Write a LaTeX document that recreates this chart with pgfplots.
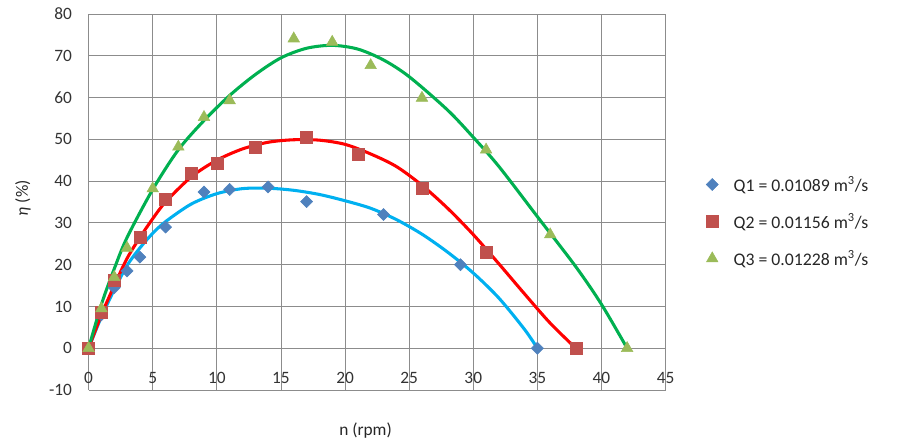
\documentclass[border=0pt]{standalone}
\usepackage{fontspec}
\setmainfont{Carlito}
\usepackage{pgfplots}
\pgfplotsset{compat=1.18}

\definecolor{gridgray}{HTML}{8C8C8C}
\definecolor{qonemark}{HTML}{4F81BD}
\definecolor{qtwomark}{HTML}{C0504D}
\definecolor{qthreemark}{HTML}{9BBB59}
\definecolor{qoneline}{HTML}{00B0F0}
\definecolor{qtwoline}{HTML}{FF0000}
\definecolor{qthreeline}{HTML}{00B050}

\begin{document}
\begin{tikzpicture}
\useasboundingbox (0,0) rectangle (675pt,332.25pt);
\begin{axis}[
    at={(66.45pt,39.75pt)}, anchor=south west,
    scale only axis,
    width=432.75pt, height=282pt,
    xmin=0, xmax=45, ymin=-10, ymax=80,
    xtick={0,5,...,45}, ytick={-10,0,...,80},
    xticklabels={0,5,10,15,20,25,30,35,40,45},
    axis x line=middle, axis y line=left,
    hide obscured x ticks=false, hide obscured y ticks=false,
    axis line style={gridgray, -},
    grid=major,
    major grid style={gridgray, line width=0.6pt},
    major tick length=0pt,
    every tick label/.append style={font=\fontsize{13}{15}\selectfont, text=black!80},
    /pgf/number format/assume math mode=true,
    x tick label style={yshift=-14.5pt},
    y tick label style={xshift=-9pt},
    xlabel={n (rpm)},
    ylabel={\textit{η} (\%)},
    label style={font=\fontsize{13}{15}\selectfont, text=black!85},
    xlabel style={at={(axis description cs:0.48,0)}, anchor=north, yshift=-21pt},
    ylabel style={at={(axis description cs:0,0.51)}, anchor=south, yshift=40pt},
    legend style={draw=none, fill=none, at={(axis description cs:1.063,0.448)}, anchor=west,
        font=\fontsize{13.3}{15}\selectfont, row sep=11pt, text=black!85},
    legend cell align=left,
    legend image code/.code={\draw[#1] plot coordinates {(0pt,0pt)}; \path[draw=none, fill=none] (0pt,0pt) -- (14pt,0pt);},
    clip=false,
]
% trend curves
\addplot[qoneline, line width=2.3pt, smooth, forget plot] coordinates {
  (0,0) (1,7.5) (2,14) (3,19.8) (4,24) (5,27.5) (6,30.3) (8,34.5) (10,37) (12,38.2)
  (14,38.3) (16,37.8) (18,36.8) (20,35.3) (22,33.5) (24,30.8) (26,27.3) (28,23)
  (30,18) (32,12) (34,4.5) (35,0)
};
\addplot[qtwoline, line width=2.3pt, smooth, forget plot] coordinates {
  (0,0) (1,8) (2,15) (3,21.5) (4,26.5) (5,31) (6,35) (8,41) (10,45) (12,47.7)
  (14,49.3) (16,49.9) (18,49.8) (20,48.8) (22,46.5) (24,43.5) (26,39) (28,33.5)
  (30,27.2) (32,20.2) (34,13) (36,6) (38,0)
};
\addplot[qthreeline, line width=2.3pt, smooth, forget plot] coordinates {
  (0,0) (1,10.5) (2,19) (3,26.5) (5,38) (7,47.5) (9,54.5) (11,60.5) (13,65.5)
  (15,69.5) (17,71.8) (19,72.5) (21,71.6) (23,69) (25,65) (28,57) (30,50.5)
  (32,43.5) (35,31.5) (38,19.5) (40,10.5) (42,0)
};
% measured points
\addplot[only marks, mark=square*, mark options={rotate=45, fill=qonemark, draw=qonemark}, mark size=3.2pt] coordinates {
  (0,0) (1,8) (2,14.5) (3,18.5) (4,21.8) (6,29) (9,37.4) (11,38) (14,38.6)
  (17,35.1) (23,32) (29,20) (35,0)
};
\addlegendentry{Q1 = 0.01089 m\textsuperscript{3}/s}
\addplot[only marks, mark=square*, mark options={fill=qtwomark, draw=qtwomark}, mark size=4.5pt] coordinates {
  (0,0) (1,8.7) (2,16.2) (4,26.6) (6,35.6) (8,41.8) (10,44.2) (13,48.2) (17,50.5)
  (21,46.4) (26,38.4) (31,22.9) (38,0)
};
\addlegendentry{Q2 = 0.01156 m\textsuperscript{3}/s}
\addplot[only marks, mark=triangle*, mark options={fill=qthreemark, draw=qthreemark}, mark size=5pt] coordinates {
  (0,0) (1,9.5) (2,17) (3,24) (5,38.2) (7,48.2) (9,55.3) (11,59.3) (16,74.1)
  (19,73.3) (22,67.7) (26,59.9) (31,47.5) (36,27.2) (42,0)
};
\addlegendentry{Q3 = 0.01228 m\textsuperscript{3}/s}
\end{axis}
\end{tikzpicture}
\end{document}
